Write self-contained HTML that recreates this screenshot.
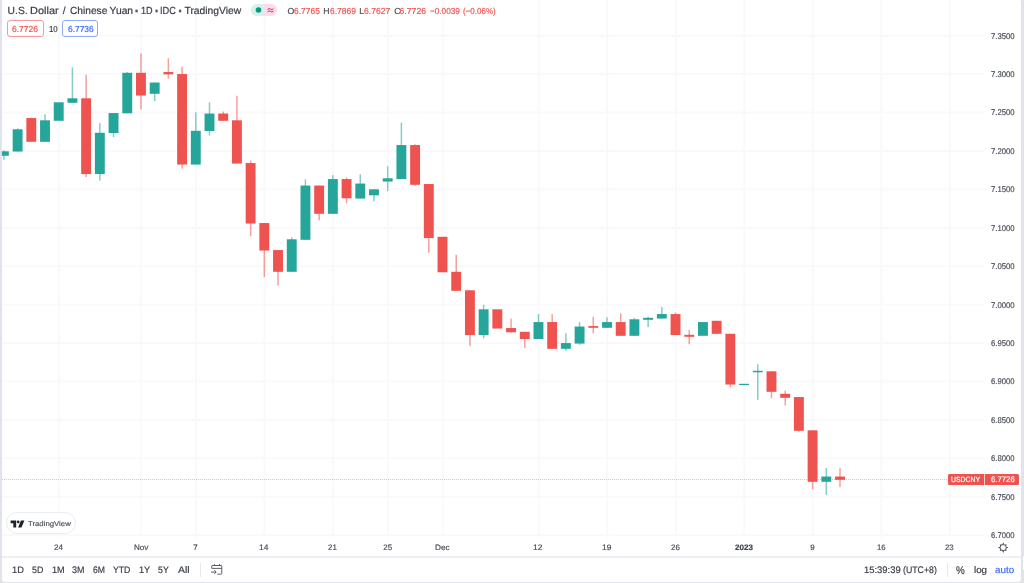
<!DOCTYPE html>
<html lang="en"><head><meta charset="utf-8"><title>USDCNY chart</title>
<style>
html,body{margin:0;padding:0;}
body{width:1024px;height:583px;overflow:hidden;background:#e0e3eb;font-family:"Liberation Sans",sans-serif;position:relative;}
#card{position:absolute;left:1.9px;top:-1.5px;width:1019.35px;height:583.1px;background:#fff;border-radius:3.5px;}
#chart{position:absolute;left:0;top:0;width:1024px;height:583px;}
.t{position:absolute;white-space:nowrap;text-rendering:geometricPrecision;transform-origin:0 0;-webkit-text-stroke:0.18px currentColor;}
.box{position:absolute;box-sizing:border-box;}
</style></head><body>
<div id="card"></div>

<svg id="chart" width="1024" height="583" viewBox="0 0 1024 583">
<clipPath id="cp"><rect x="1.9" y="0" width="1019.35" height="556"/></clipPath>
<g clip-path="url(#cp)">
<rect x="2" y="34.71" width="982.3" height="1.9" fill="#f9f9fb"/>
<rect x="2" y="73.13" width="982.3" height="1.9" fill="#f9f9fb"/>
<rect x="2" y="111.55" width="982.3" height="1.9" fill="#f9f9fb"/>
<rect x="2" y="149.97" width="982.3" height="1.9" fill="#f9f9fb"/>
<rect x="2" y="188.39" width="982.3" height="1.9" fill="#f9f9fb"/>
<rect x="2" y="226.81" width="982.3" height="1.9" fill="#f9f9fb"/>
<rect x="2" y="265.23" width="982.3" height="1.9" fill="#f9f9fb"/>
<rect x="2" y="303.65" width="982.3" height="1.9" fill="#f9f9fb"/>
<rect x="2" y="342.07" width="982.3" height="1.9" fill="#f9f9fb"/>
<rect x="2" y="380.49" width="982.3" height="1.9" fill="#f9f9fb"/>
<rect x="2" y="418.91" width="982.3" height="1.9" fill="#f9f9fb"/>
<rect x="2" y="457.33" width="982.3" height="1.9" fill="#f9f9fb"/>
<rect x="2" y="495.75" width="982.3" height="1.9" fill="#f9f9fb"/>
<rect x="2" y="534.17" width="982.3" height="1.9" fill="#f9f9fb"/>
<rect x="57.97" y="0" width="1.9" height="537.5" fill="#f9f9fb"/>
<rect x="140.21" y="0" width="1.9" height="537.5" fill="#f9f9fb"/>
<rect x="195.04" y="0" width="1.9" height="537.5" fill="#f9f9fb"/>
<rect x="263.57" y="0" width="1.9" height="537.5" fill="#f9f9fb"/>
<rect x="332.11" y="0" width="1.9" height="537.5" fill="#f9f9fb"/>
<rect x="386.94" y="0" width="1.9" height="537.5" fill="#f9f9fb"/>
<rect x="441.76" y="0" width="1.9" height="537.5" fill="#f9f9fb"/>
<rect x="537.71" y="0" width="1.9" height="537.5" fill="#f9f9fb"/>
<rect x="606.25" y="0" width="1.9" height="537.5" fill="#f9f9fb"/>
<rect x="674.78" y="0" width="1.9" height="537.5" fill="#f9f9fb"/>
<rect x="743.32" y="0" width="1.9" height="537.5" fill="#f9f9fb"/>
<rect x="811.85" y="0" width="1.9" height="537.5" fill="#f9f9fb"/>
<rect x="880.39" y="0" width="1.9" height="537.5" fill="#f9f9fb"/>
<rect x="948.92" y="0" width="1.9" height="537.5" fill="#f9f9fb"/>
<rect x="3.14" y="150.30" width="1.5" height="9.50" fill="#26a69a" opacity="0.56"/>
<rect x="-1.06" y="151.30" width="9.9" height="4.50" fill="#26a69a"/>
<rect x="16.85" y="128.30" width="1.5" height="23.25" fill="#26a69a" opacity="0.56"/>
<rect x="12.65" y="129.30" width="9.9" height="22.25" fill="#26a69a"/>
<rect x="30.55" y="117.55" width="1.5" height="24.25" fill="#ef5350" opacity="0.56"/>
<rect x="26.35" y="118.05" width="9.9" height="23.75" fill="#ef5350"/>
<rect x="44.26" y="114.30" width="1.5" height="27.50" fill="#26a69a" opacity="0.56"/>
<rect x="40.06" y="120.30" width="9.9" height="21.50" fill="#26a69a"/>
<rect x="53.77" y="102.30" width="9.9" height="18.50" fill="#26a69a"/>
<rect x="71.67" y="67.30" width="1.5" height="35.50" fill="#26a69a" opacity="0.56"/>
<rect x="67.47" y="98.30" width="9.9" height="4.50" fill="#26a69a"/>
<rect x="85.38" y="74.80" width="1.5" height="102.25" fill="#ef5350" opacity="0.56"/>
<rect x="81.18" y="98.30" width="9.9" height="75.75" fill="#ef5350"/>
<rect x="99.09" y="123.05" width="1.5" height="57.50" fill="#26a69a" opacity="0.56"/>
<rect x="94.89" y="132.80" width="9.9" height="41.25" fill="#26a69a"/>
<rect x="112.80" y="113.05" width="1.5" height="24.00" fill="#26a69a" opacity="0.56"/>
<rect x="108.60" y="113.05" width="9.9" height="20.00" fill="#26a69a"/>
<rect x="126.50" y="72.05" width="1.5" height="41.25" fill="#26a69a" opacity="0.56"/>
<rect x="122.30" y="72.80" width="9.9" height="40.50" fill="#26a69a"/>
<rect x="140.21" y="53.30" width="1.5" height="56.25" fill="#ef5350" opacity="0.56"/>
<rect x="136.01" y="72.80" width="9.9" height="22.75" fill="#ef5350"/>
<rect x="153.92" y="82.55" width="1.5" height="18.50" fill="#26a69a" opacity="0.56"/>
<rect x="149.72" y="82.55" width="9.9" height="11.25" fill="#26a69a"/>
<rect x="167.62" y="58.30" width="1.5" height="20.25" fill="#ef5350" opacity="0.56"/>
<rect x="163.42" y="72.05" width="9.9" height="2.25" fill="#ef5350"/>
<rect x="181.33" y="66.80" width="1.5" height="101.75" fill="#ef5350" opacity="0.56"/>
<rect x="177.13" y="74.05" width="9.9" height="90.50" fill="#ef5350"/>
<rect x="195.04" y="112.30" width="1.5" height="52.25" fill="#26a69a" opacity="0.56"/>
<rect x="190.84" y="130.80" width="9.9" height="33.75" fill="#26a69a"/>
<rect x="208.75" y="102.30" width="1.5" height="33.25" fill="#26a69a" opacity="0.56"/>
<rect x="204.55" y="113.55" width="9.9" height="17.50" fill="#26a69a"/>
<rect x="222.45" y="111.55" width="1.5" height="9.25" fill="#ef5350" opacity="0.56"/>
<rect x="218.25" y="113.55" width="9.9" height="7.25" fill="#ef5350"/>
<rect x="236.16" y="95.80" width="1.5" height="67.75" fill="#ef5350" opacity="0.56"/>
<rect x="231.96" y="120.30" width="9.9" height="43.25" fill="#ef5350"/>
<rect x="249.87" y="160.55" width="1.5" height="75.75" fill="#ef5350" opacity="0.56"/>
<rect x="245.67" y="163.05" width="9.9" height="60.50" fill="#ef5350"/>
<rect x="263.57" y="223.05" width="1.5" height="54.00" fill="#ef5350" opacity="0.56"/>
<rect x="259.37" y="223.05" width="9.9" height="27.50" fill="#ef5350"/>
<rect x="277.28" y="250.05" width="1.5" height="35.50" fill="#ef5350" opacity="0.56"/>
<rect x="273.08" y="250.05" width="9.9" height="21.75" fill="#ef5350"/>
<rect x="290.99" y="237.30" width="1.5" height="34.50" fill="#26a69a" opacity="0.56"/>
<rect x="286.79" y="239.30" width="9.9" height="32.50" fill="#26a69a"/>
<rect x="304.69" y="179.30" width="1.5" height="60.50" fill="#26a69a" opacity="0.56"/>
<rect x="300.49" y="185.55" width="9.9" height="54.25" fill="#26a69a"/>
<rect x="318.40" y="185.55" width="1.5" height="34.75" fill="#ef5350" opacity="0.56"/>
<rect x="314.20" y="185.55" width="9.9" height="28.25" fill="#ef5350"/>
<rect x="332.11" y="175.05" width="1.5" height="38.75" fill="#26a69a" opacity="0.56"/>
<rect x="327.91" y="179.05" width="9.9" height="34.75" fill="#26a69a"/>
<rect x="345.81" y="177.55" width="1.5" height="25.75" fill="#ef5350" opacity="0.56"/>
<rect x="341.62" y="179.05" width="9.9" height="19.25" fill="#ef5350"/>
<rect x="359.52" y="174.30" width="1.5" height="24.25" fill="#26a69a" opacity="0.56"/>
<rect x="355.32" y="183.55" width="9.9" height="15.00" fill="#26a69a"/>
<rect x="373.23" y="189.30" width="1.5" height="12.00" fill="#26a69a" opacity="0.56"/>
<rect x="369.03" y="189.30" width="9.9" height="6.00" fill="#26a69a"/>
<rect x="386.94" y="166.30" width="1.5" height="24.75" fill="#26a69a" opacity="0.56"/>
<rect x="382.74" y="178.30" width="9.9" height="3.25" fill="#26a69a"/>
<rect x="400.64" y="122.80" width="1.5" height="56.25" fill="#26a69a" opacity="0.56"/>
<rect x="396.44" y="145.05" width="9.9" height="34.00" fill="#26a69a"/>
<rect x="414.35" y="144.30" width="1.5" height="41.50" fill="#ef5350" opacity="0.56"/>
<rect x="410.15" y="145.05" width="9.9" height="39.75" fill="#ef5350"/>
<rect x="428.06" y="184.05" width="1.5" height="68.75" fill="#ef5350" opacity="0.56"/>
<rect x="423.86" y="184.05" width="9.9" height="54.00" fill="#ef5350"/>
<rect x="437.56" y="236.80" width="9.9" height="35.50" fill="#ef5350"/>
<rect x="455.47" y="254.80" width="1.5" height="36.00" fill="#ef5350" opacity="0.56"/>
<rect x="451.27" y="271.80" width="9.9" height="19.00" fill="#ef5350"/>
<rect x="469.18" y="290.30" width="1.5" height="55.75" fill="#ef5350" opacity="0.56"/>
<rect x="464.98" y="290.30" width="9.9" height="44.75" fill="#ef5350"/>
<rect x="482.88" y="304.80" width="1.5" height="33.50" fill="#26a69a" opacity="0.56"/>
<rect x="478.69" y="309.30" width="9.9" height="25.75" fill="#26a69a"/>
<rect x="492.39" y="309.30" width="9.9" height="19.25" fill="#ef5350"/>
<rect x="510.30" y="318.55" width="1.5" height="13.75" fill="#ef5350" opacity="0.56"/>
<rect x="506.10" y="328.05" width="9.9" height="4.25" fill="#ef5350"/>
<rect x="524.01" y="331.80" width="1.5" height="16.25" fill="#ef5350" opacity="0.56"/>
<rect x="519.81" y="331.80" width="9.9" height="7.25" fill="#ef5350"/>
<rect x="537.71" y="314.05" width="1.5" height="25.00" fill="#26a69a" opacity="0.56"/>
<rect x="533.51" y="322.05" width="9.9" height="17.00" fill="#26a69a"/>
<rect x="551.42" y="314.05" width="1.5" height="34.75" fill="#ef5350" opacity="0.56"/>
<rect x="547.22" y="322.05" width="9.9" height="26.75" fill="#ef5350"/>
<rect x="565.13" y="333.30" width="1.5" height="17.50" fill="#26a69a" opacity="0.56"/>
<rect x="560.93" y="343.05" width="9.9" height="5.75" fill="#26a69a"/>
<rect x="578.83" y="322.05" width="1.5" height="22.75" fill="#26a69a" opacity="0.56"/>
<rect x="574.63" y="326.55" width="9.9" height="17.00" fill="#26a69a"/>
<rect x="592.54" y="316.80" width="1.5" height="16.50" fill="#ef5350" opacity="0.56"/>
<rect x="588.34" y="326.05" width="9.9" height="1.75" fill="#ef5350"/>
<rect x="606.25" y="317.30" width="1.5" height="10.50" fill="#26a69a" opacity="0.56"/>
<rect x="602.05" y="322.05" width="9.9" height="5.75" fill="#26a69a"/>
<rect x="619.96" y="313.30" width="1.5" height="22.50" fill="#ef5350" opacity="0.56"/>
<rect x="615.75" y="322.05" width="9.9" height="13.75" fill="#ef5350"/>
<rect x="633.66" y="318.05" width="1.5" height="17.75" fill="#26a69a" opacity="0.56"/>
<rect x="629.46" y="319.30" width="9.9" height="16.50" fill="#26a69a"/>
<rect x="647.37" y="316.80" width="1.5" height="10.25" fill="#26a69a" opacity="0.56"/>
<rect x="643.17" y="317.80" width="9.9" height="2.00" fill="#26a69a"/>
<rect x="661.08" y="307.05" width="1.5" height="11.50" fill="#26a69a" opacity="0.56"/>
<rect x="656.88" y="314.05" width="9.9" height="4.50" fill="#26a69a"/>
<rect x="674.78" y="312.55" width="1.5" height="22.50" fill="#ef5350" opacity="0.56"/>
<rect x="670.58" y="314.05" width="9.9" height="21.00" fill="#ef5350"/>
<rect x="688.49" y="329.80" width="1.5" height="14.50" fill="#ef5350" opacity="0.56"/>
<rect x="684.29" y="334.80" width="9.9" height="2.00" fill="#ef5350"/>
<rect x="698.00" y="322.05" width="9.9" height="13.75" fill="#26a69a"/>
<rect x="715.90" y="320.80" width="1.5" height="13.50" fill="#ef5350" opacity="0.56"/>
<rect x="711.70" y="320.80" width="9.9" height="13.00" fill="#ef5350"/>
<rect x="729.61" y="333.80" width="1.5" height="53.50" fill="#ef5350" opacity="0.56"/>
<rect x="725.41" y="333.80" width="9.9" height="50.75" fill="#ef5350"/>
<rect x="739.12" y="383.80" width="9.9" height="1.25" fill="#26a69a"/>
<rect x="757.02" y="364.30" width="1.5" height="35.50" fill="#26a69a" opacity="0.56"/>
<rect x="752.82" y="370.80" width="9.9" height="1.50" fill="#26a69a"/>
<rect x="770.73" y="371.30" width="1.5" height="27.00" fill="#ef5350" opacity="0.56"/>
<rect x="766.53" y="371.30" width="9.9" height="20.50" fill="#ef5350"/>
<rect x="784.44" y="390.55" width="1.5" height="15.00" fill="#ef5350" opacity="0.56"/>
<rect x="780.24" y="393.80" width="9.9" height="4.00" fill="#ef5350"/>
<rect x="798.15" y="397.05" width="1.5" height="34.75" fill="#ef5350" opacity="0.56"/>
<rect x="793.95" y="397.05" width="9.9" height="33.75" fill="#ef5350"/>
<rect x="811.85" y="430.30" width="1.5" height="59.00" fill="#ef5350" opacity="0.56"/>
<rect x="807.65" y="430.30" width="9.9" height="51.50" fill="#ef5350"/>
<rect x="825.56" y="468.05" width="1.5" height="26.75" fill="#26a69a" opacity="0.56"/>
<rect x="821.36" y="476.55" width="9.9" height="5.25" fill="#26a69a"/>
<rect x="839.27" y="468.05" width="1.5" height="19.00" fill="#ef5350" opacity="0.56"/>
<rect x="835.07" y="476.55" width="9.9" height="3.25" fill="#ef5350"/>
<line x1="2" y1="479.5" x2="948" y2="479.5" stroke="#ef5350" stroke-width="1.2" stroke-dasharray="1 1" opacity="0.44"/>
</g>
</svg>


<div class="box" style="left:7px;top:19.9px;width:37px;height:16.8px;border:1px solid #f59b9c;border-radius:3px;"></div>
<div class="box" style="left:62px;top:19.9px;width:36px;height:16.8px;border:1px solid #8fa9fb;border-radius:3px;"></div>
<div class="box" style="left:251px;top:3.8px;width:13.3px;height:12.2px;background:#d6f0ec;border-radius:6.1px 0 0 6.1px;"></div>
<div class="box" style="left:264.3px;top:3.8px;width:13.2px;height:12.2px;background:#fbdce8;border-radius:0 6.1px 6.1px 0;"></div>
<div class="box" style="left:948px;top:474px;width:71.1px;height:11.1px;background:#ef5350;border-radius:1.5px;"></div>
<div class="box" style="left:984.1px;top:474px;width:0.6px;height:11.1px;background:#fbd0cf;"></div>
<div class="box" style="left:6.3px;top:512.3px;width:69.3px;height:22.1px;background:#fff;border:1px solid #ebecf0;border-radius:11.1px;"></div>
<div class="box" style="left:1.9px;top:556.1px;width:1019.35px;height:1.6px;background:#eef0f4;"></div>
<div class="box" style="left:1022.9px;top:556.4px;width:3px;height:14px;background:#fff;border-radius:1.5px 0 0 1.5px;"></div>
<div class="box" style="left:199.5px;top:562.7px;width:1.2px;height:14.2px;background:#e6e8ee;"></div>
<div class="box" style="left:946.9px;top:562.7px;width:1.2px;height:14.2px;background:#e6e8ee;"></div>

<svg style="position:absolute;left:0;top:0" width="1024" height="583" viewBox="0 0 1024 583">
<circle cx="258.5" cy="10" r="2.8" fill="#0c9982"/>
<g fill="none" stroke="#d6247c" stroke-width="1" stroke-linecap="round"><path d="M267.9 9.1q1.3-1.1 2.6 0t2.6 0"/><path d="M267.9 11.4q1.3-1.1 2.6 0t2.6 0"/></g>
<!-- TV logo -->
<g fill="#1e222d"><path d="M10.6 520.5h5.6v7h-2.9v-4.2h-2.7z"/><circle cx="18.2" cy="521.9" r="1.35"/><path d="M20.9 520.5h3.5l-2.9 7h-3.4z"/></g>
<!-- goto date icon -->
<g fill="none" stroke="#4a4e59" stroke-width="0.9"><path d="M211.8 568.4v-2.3a0.6 0.6 0 0 1 0.6-0.6h8.8a0.6 0.6 0 0 1 0.6 0.6v7.2a0.9 0.9 0 0 1-0.9 0.9h-3.6"/><path d="M211.8 568.4h10"/><path d="M214.5 564.1v1.8M219.5 564.1v1.8"/><path d="M211 572.1h5M214.3 570.3l1.9 1.8l-1.9 1.8"/></g>
<!-- gear -->
<g><circle cx="1003.2" cy="547.6" r="3.05" fill="none" stroke="#434651" stroke-width="0.9"/><path fill="#434651" d="M1003.20 542.30L1004.15 544.40L1002.25 544.40ZM1006.66 544.14L1006.13 546.01L1004.79 544.67ZM1008.50 547.60L1006.40 548.55L1006.40 546.65ZM1006.66 551.06L1004.79 550.53L1006.13 549.19ZM1003.20 552.90L1002.25 550.80L1004.15 550.80ZM999.74 551.06L1000.27 549.19L1001.61 550.53ZM997.90 547.60L1000.00 546.65L1000.00 548.55ZM999.74 544.14L1001.61 544.67L1000.27 546.01Z"/></g>
</svg>

<span class="t" id="tt0" style="left:7.62px;top:5.51px;font-size:10.3px;line-height:11.845px;color:#363a45;letter-spacing:0.000px;">U.S.</span>
<span class="t" id="tt1" style="left:30.34px;top:5.51px;font-size:10.3px;line-height:11.845px;color:#363a45;letter-spacing:0.000px;transform:scaleX(1.0659);">Dollar</span>
<span class="t" id="tt2" style="left:62.83px;top:5.51px;font-size:10.3px;line-height:11.845px;color:#363a45;letter-spacing:0.000px;">/</span>
<span class="t" id="tt3" style="left:70.32px;top:5.51px;font-size:10.3px;line-height:11.845px;color:#363a45;letter-spacing:0.000px;transform:scaleX(0.9885);">Chinese</span>
<span class="t" id="tt4" style="left:109.62px;top:5.51px;font-size:10.3px;line-height:11.845px;color:#363a45;letter-spacing:0.000px;">Yuan</span>
<span class="t" id="tt5" style="left:134.45px;top:3.18px;font-size:15px;line-height:17.250px;color:#555965;letter-spacing:0.000px;font-weight:bold;">·</span>
<span class="t" id="tt6" style="left:140.68px;top:5.51px;font-size:10.3px;line-height:11.845px;color:#363a45;letter-spacing:0.000px;transform:scaleX(0.8849);">1D</span>
<span class="t" id="tt7" style="left:154.45px;top:3.18px;font-size:15px;line-height:17.250px;color:#555965;letter-spacing:0.000px;font-weight:bold;">·</span>
<span class="t" id="tt8" style="left:160.35px;top:5.51px;font-size:10.3px;line-height:11.845px;color:#363a45;letter-spacing:0.000px;transform:scaleX(0.8972);">IDC</span>
<span class="t" id="tt9" style="left:178.00px;top:3.18px;font-size:15px;line-height:17.250px;color:#555965;letter-spacing:0.000px;font-weight:bold;">·</span>
<span class="t" id="tt10" style="left:184.47px;top:5.51px;font-size:10.3px;line-height:11.845px;color:#363a45;letter-spacing:0.000px;">TradingView</span>
<span class="t" id="o_l" style="left:287.59px;top:5.98px;font-size:8.7px;line-height:10.005px;color:#4a4e59;letter-spacing:0.000px;">O</span><span class="t" id="o_v" style="left:294.29px;top:5.98px;font-size:8.7px;line-height:10.005px;color:#ef5350;letter-spacing:0.000px;transform:scaleX(0.9722);">6.7765</span>
<span class="t" id="h_l" style="left:323.33px;top:5.98px;font-size:8.7px;line-height:10.005px;color:#4a4e59;letter-spacing:0.000px;">H</span><span class="t" id="h_v" style="left:329.72px;top:5.98px;font-size:8.7px;line-height:10.005px;color:#ef5350;letter-spacing:0.000px;transform:scaleX(0.9770);">6.7869</span>
<span class="t" id="l_l" style="left:359.36px;top:5.98px;font-size:8.7px;line-height:10.005px;color:#4a4e59;letter-spacing:0.000px;">L</span><span class="t" id="l_v" style="left:364.38px;top:5.98px;font-size:8.7px;line-height:10.005px;color:#ef5350;letter-spacing:0.000px;transform:scaleX(0.9854);">6.7627</span>
<span class="t" id="c_l" style="left:394.15px;top:5.98px;font-size:8.7px;line-height:10.005px;color:#4a4e59;letter-spacing:0.000px;">C</span><span class="t" id="c_v" style="left:399.54px;top:5.98px;font-size:8.7px;line-height:10.005px;color:#ef5350;letter-spacing:0.000px;">6.7726</span>
<span class="t" id="chg" style="left:429.79px;top:5.98px;font-size:8.7px;line-height:10.005px;color:#ef5350;letter-spacing:0.000px;transform:scaleX(0.9433);">−0.0039</span>
<span class="t" id="pct" style="left:462.50px;top:5.98px;font-size:8.7px;line-height:10.005px;color:#ef5350;letter-spacing:0.000px;transform:scaleX(0.9231);">(−0.06%)</span>
<span class="t" id="b1" style="left:12.40px;top:23.98px;font-size:8.7px;line-height:10.005px;color:#ef5350;letter-spacing:0.000px;transform:scaleX(0.9815);">6.7726</span>
<span class="t" id="b10" style="left:48.91px;top:25.08px;font-size:8.6px;line-height:9.890px;color:#363a45;letter-spacing:0.000px;transform:scaleX(0.9102);">10</span>
<span class="t" id="b2" style="left:67.58px;top:23.98px;font-size:8.7px;line-height:10.005px;color:#3a6bff;letter-spacing:0.000px;transform:scaleX(0.9665);">6.7736</span>
<span class="t" id="p0" style="left:990.95px;top:32.35px;font-size:8.3px;line-height:9.545px;color:#4a4e59;letter-spacing:0.000px;transform:scaleX(0.9329);">7.3500</span>
<span class="t" id="p1" style="left:991.01px;top:70.35px;font-size:8.3px;line-height:9.545px;color:#4a4e59;letter-spacing:0.000px;transform:scaleX(0.9331);">7.3000</span>
<span class="t" id="p2" style="left:990.88px;top:108.35px;font-size:8.3px;line-height:9.545px;color:#4a4e59;letter-spacing:0.000px;transform:scaleX(0.9318);">7.2500</span>
<span class="t" id="p3" style="left:990.88px;top:147.35px;font-size:8.3px;line-height:9.545px;color:#4a4e59;letter-spacing:0.000px;transform:scaleX(0.9318);">7.2000</span>
<span class="t" id="p4" style="left:990.85px;top:185.35px;font-size:8.3px;line-height:9.545px;color:#4a4e59;letter-spacing:0.000px;transform:scaleX(0.9325);">7.1500</span>
<span class="t" id="p5" style="left:990.90px;top:224.35px;font-size:8.3px;line-height:9.545px;color:#4a4e59;letter-spacing:0.000px;transform:scaleX(0.9318);">7.1000</span>
<span class="t" id="p6" style="left:990.96px;top:262.35px;font-size:8.3px;line-height:9.545px;color:#4a4e59;letter-spacing:0.000px;transform:scaleX(0.9322);">7.0500</span>
<span class="t" id="p7" style="left:990.99px;top:301.35px;font-size:8.3px;line-height:9.545px;color:#4a4e59;letter-spacing:0.000px;transform:scaleX(0.9331);">7.0000</span>
<span class="t" id="p8" style="left:991.17px;top:339.35px;font-size:8.3px;line-height:9.545px;color:#4a4e59;letter-spacing:0.000px;transform:scaleX(0.9266);">6.9500</span>
<span class="t" id="p9" style="left:991.17px;top:377.35px;font-size:8.3px;line-height:9.545px;color:#4a4e59;letter-spacing:0.000px;transform:scaleX(0.9263);">6.9000</span>
<span class="t" id="p10" style="left:991.17px;top:416.35px;font-size:8.3px;line-height:9.545px;color:#4a4e59;letter-spacing:0.000px;transform:scaleX(0.9266);">6.8500</span>
<span class="t" id="p11" style="left:991.17px;top:454.35px;font-size:8.3px;line-height:9.545px;color:#4a4e59;letter-spacing:0.000px;transform:scaleX(0.9263);">6.8000</span>
<span class="t" id="p12" style="left:991.17px;top:493.35px;font-size:8.3px;line-height:9.545px;color:#4a4e59;letter-spacing:0.000px;transform:scaleX(0.9266);">6.7500</span>
<span class="t" id="p13" style="left:991.17px;top:531.35px;font-size:8.3px;line-height:9.545px;color:#4a4e59;letter-spacing:0.000px;transform:scaleX(0.9263);">6.7000</span>
<span class="t" id="sym" style="left:951.31px;top:476.00px;font-size:7.6px;line-height:8.740px;color:#ffffff;letter-spacing:0.000px;transform:scaleX(0.9045);">USDCNY</span>
<span class="t" id="last" style="left:990.86px;top:474.63px;font-size:8.0px;line-height:9.200px;color:#ffffff;letter-spacing:0.000px;transform:scaleX(0.9679);">6.7726</span>
<span class="t" id="t0" style="left:54.04px;top:542.72px;font-size:7.9px;line-height:9.085px;color:#4a4e59;letter-spacing:0.000px;transform:scaleX(1.0345);">24</span>
<span class="t" id="t1" style="left:133.96px;top:542.72px;font-size:7.9px;line-height:9.085px;color:#4a4e59;letter-spacing:0.000px;transform:scaleX(1.0275);">Nov</span>
<span class="t" id="t2" style="left:193.22px;top:542.72px;font-size:7.9px;line-height:9.085px;color:#4a4e59;letter-spacing:0.000px;">7</span>
<span class="t" id="t3" style="left:259.39px;top:542.72px;font-size:7.9px;line-height:9.085px;color:#4a4e59;letter-spacing:0.000px;transform:scaleX(1.0662);">14</span>
<span class="t" id="t4" style="left:328.10px;top:542.72px;font-size:7.9px;line-height:9.085px;color:#4a4e59;letter-spacing:0.000px;transform:scaleX(1.0062);">21</span>
<span class="t" id="t5" style="left:383.32px;top:542.72px;font-size:7.9px;line-height:9.085px;color:#4a4e59;letter-spacing:0.000px;">25</span>
<span class="t" id="t6" style="left:434.99px;top:542.72px;font-size:7.9px;line-height:9.085px;color:#4a4e59;letter-spacing:0.000px;transform:scaleX(1.0428);">Dec</span>
<span class="t" id="t7" style="left:533.46px;top:542.72px;font-size:7.9px;line-height:9.085px;color:#4a4e59;letter-spacing:0.000px;transform:scaleX(1.0775);">12</span>
<span class="t" id="t8" style="left:602.27px;top:542.72px;font-size:7.9px;line-height:9.085px;color:#4a4e59;letter-spacing:0.000px;transform:scaleX(1.0651);">19</span>
<span class="t" id="t9" style="left:671.13px;top:542.72px;font-size:7.9px;line-height:9.085px;color:#4a4e59;letter-spacing:0.000px;transform:scaleX(1.0065);">26</span>
<span class="t" id="t10" style="left:734.78px;top:542.72px;font-size:7.9px;line-height:9.085px;color:#3c404b;letter-spacing:0.000px;transform:scaleX(1.0221);font-weight:bold;">2023</span>
<span class="t" id="t11" style="left:810.16px;top:542.72px;font-size:7.9px;line-height:9.085px;color:#4a4e59;letter-spacing:0.000px;">9</span>
<span class="t" id="t12" style="left:877.08px;top:542.72px;font-size:7.9px;line-height:9.085px;color:#4a4e59;letter-spacing:0.000px;transform:scaleX(0.9846);">16</span>
<span class="t" id="t13" style="left:945.18px;top:542.72px;font-size:7.9px;line-height:9.085px;color:#4a4e59;letter-spacing:0.000px;transform:scaleX(0.9885);">23</span>
<span class="t" id="r1" style="left:12.39px;top:566.25px;font-size:9.5px;line-height:10.925px;color:#363a45;letter-spacing:0.000px;transform:scaleX(0.9721);">1D</span>
<span class="t" id="r2" style="left:32.34px;top:566.25px;font-size:9.5px;line-height:10.925px;color:#363a45;letter-spacing:0.000px;transform:scaleX(0.9272);">5D</span>
<span class="t" id="r3" style="left:51.95px;top:566.25px;font-size:9.5px;line-height:10.925px;color:#363a45;letter-spacing:0.000px;transform:scaleX(0.9583);">1M</span>
<span class="t" id="r4" style="left:72.43px;top:566.25px;font-size:9.5px;line-height:10.925px;color:#363a45;letter-spacing:0.000px;transform:scaleX(0.9408);">3M</span>
<span class="t" id="r5" style="left:92.59px;top:566.25px;font-size:9.5px;line-height:10.925px;color:#363a45;letter-spacing:0.000px;transform:scaleX(0.9074);">6M</span>
<span class="t" id="r6" style="left:113.08px;top:566.25px;font-size:9.5px;line-height:10.925px;color:#363a45;letter-spacing:0.000px;transform:scaleX(0.9150);">YTD</span>
<span class="t" id="r7" style="left:139.17px;top:566.25px;font-size:9.5px;line-height:10.925px;color:#363a45;letter-spacing:0.000px;transform:scaleX(0.9631);">1Y</span>
<span class="t" id="r8" style="left:158.33px;top:566.25px;font-size:9.5px;line-height:10.925px;color:#363a45;letter-spacing:0.000px;transform:scaleX(0.9229);">5Y</span>
<span class="t" id="r9" style="left:178.00px;top:566.25px;font-size:9.5px;line-height:10.925px;color:#363a45;letter-spacing:0.000px;transform:scaleX(1.0967);">All</span>
<span class="t" id="clock1" style="left:864.46px;top:566.25px;font-size:9.5px;line-height:10.925px;color:#363a45;letter-spacing:0.000px;transform:scaleX(0.9899);">15:39:39</span>
<span class="t" id="clock2" style="left:903.16px;top:566.25px;font-size:9.5px;line-height:10.925px;color:#363a45;letter-spacing:0.000px;transform:scaleX(0.9219);">(UTC+8)</span>
<span class="t" id="pc" style="left:956.04px;top:564.68px;font-size:11.2px;line-height:12.880px;color:#363a45;letter-spacing:0.000px;transform:scaleX(0.8842);">%</span>
<span class="t" id="log" style="left:973.76px;top:566.25px;font-size:9.5px;line-height:10.925px;color:#363a45;letter-spacing:0.000px;transform:scaleX(1.0308);">log</span>
<span class="t" id="auto" style="left:995.22px;top:566.25px;font-size:9.5px;line-height:10.925px;color:#3a6bff;letter-spacing:0.000px;transform:scaleX(1.0354);">auto</span>
<span class="t" id="tvtxt" style="left:28.11px;top:520.55px;font-size:7.0px;line-height:8.050px;color:#50535e;letter-spacing:0.000px;transform:scaleX(1.1097);">TradingView</span>

</body></html>
